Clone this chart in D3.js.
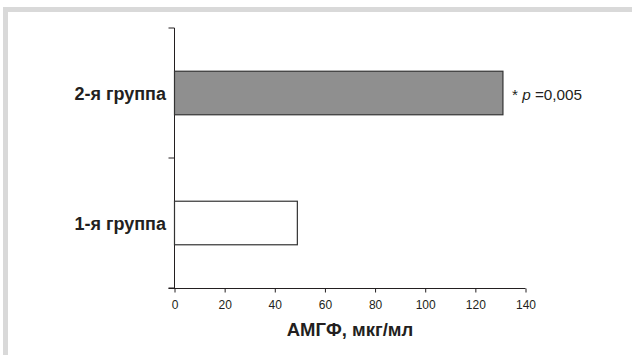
<!DOCTYPE html>
<html>
<head>
<meta charset="utf-8">
<script src="https://cdn.jsdelivr.net/npm/d3@7"></script>
<style>
  body { margin: 0; background: #fff; }
  svg { display: block; font-family: Arial, 'Liberation Sans', sans-serif; }
</style>
</head>
<body>
<div id="chart"></div>
<script>
// data
const groups = ['1-я группа', '2-я группа'];
const values = [49, 131];
const xTicks = [0, 20, 40, 60, 80, 100, 120, 140];
const xTitle = 'АМГФ, мкг/мл';
const note = { group: '2-я группа', star: '* ', p: 'p', rest: ' =0,005' };

const width = 632;
const height = 355;
const ink = '#231f20';

const svg = d3.select('#chart').append('svg').attr('width', width).attr('height', height);

// frame of the figure panel
svg.append('rect').attr('x', 3).attr('y', 7).attr('width', width - 3).attr('height', 5).attr('fill', '#d9d9d9');
svg.append('rect').attr('x', 3).attr('y', 7).attr('width', 5).attr('height', height - 7).attr('fill', '#d9d9d9');

const xScale = d3.scaleLinear().domain([0, 140]).range([174.5, 525.5]);
const yScale = d3.scaleBand().domain(groups).range([288, 28]).padding(0);
const barH = yScale.bandwidth() * 0.335;

// y axis: line with ticks at band edges
const yEdges = [28, 158, 288];
svg.append('line')
  .attr('x1', xScale(0)).attr('x2', xScale(0))
  .attr('y1', 28).attr('y2', 288)
  .attr('stroke', ink).attr('stroke-width', 1);
yEdges.forEach((y) => {
  svg.append('line')
    .attr('x1', xScale(0) - 6).attr('x2', xScale(0))
    .attr('y1', y).attr('y2', y)
    .attr('stroke', ink).attr('stroke-width', 1);
});

// x axis
const xAxis = svg.append('g')
  .attr('transform', 'translate(0,288.5)')
  .call(d3.axisBottom(xScale).tickValues(xTicks).tickSize(4).tickSizeOuter(0));
xAxis.select('.domain').attr('stroke', ink).attr('d', `M${xScale(0) - 6},0H${xScale(140)}`);
xAxis.selectAll('.tick line').attr('stroke', ink);
xAxis.selectAll('.tick text')
  .attr('y', 12)
  .attr('fill', ink)
  .style('font-size', '12px');

svg.append('text')
  .attr('x', (xScale(0) + xScale(140)) / 2)
  .attr('y', 336)
  .attr('text-anchor', 'middle')
  .attr('fill', ink)
  .style('font-size', '18.5px')
  .style('font-weight', 'bold')
  .text(xTitle);

// bars
svg.selectAll('.bar')
  .data(groups)
  .join('rect')
  .attr('class', 'bar')
  .attr('x', xScale(0))
  .attr('y', (d) => yScale(d) + yScale.bandwidth() / 2 - barH / 2)
  .attr('width', (d, i) => xScale(values[i]) - xScale(0))
  .attr('height', barH)
  .attr('fill', (d, i) => (i === 1 ? '#8f8f8f' : '#ffffff'))
  .attr('stroke', '#333')
  .attr('stroke-width', 1.2);

// category labels
svg.selectAll('.cat')
  .data(groups)
  .join('text')
  .attr('class', 'cat')
  .attr('x', 166)
  .attr('y', (d) => yScale(d) + yScale.bandwidth() / 2 + 1)
  .attr('dy', '0.35em')
  .attr('text-anchor', 'end')
  .attr('fill', ink)
  .style('font-size', '18px')
  .style('font-weight', 'bold')
  .text((d) => d);

// significance note
const ni = groups.indexOf(note.group);
const noteText = svg.append('text')
  .attr('x', xScale(values[ni]) + 9)
  .attr('y', yScale(note.group) + yScale.bandwidth() / 2 + 2)
  .attr('dy', '0.35em')
  .attr('fill', ink)
  .style('font-size', '15.3px');
noteText.append('tspan').text(note.star);
noteText.append('tspan').style('font-style', 'italic').text(note.p);
noteText.append('tspan').text(note.rest);
</script>
</body>
</html>
